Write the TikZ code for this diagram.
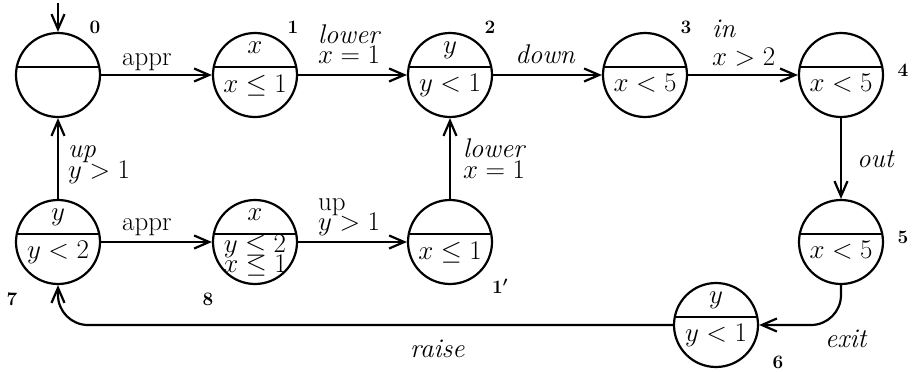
\RequirePackage{fix-cm}
\documentclass[tikz,border=0pt]{standalone}
\usetikzlibrary{arrows.meta,calc}
\begin{document}
\begin{tikzpicture}[x=1pt,y=-1pt,
  st/.style={circle,draw,line width=2.2pt,minimum size=84pt,inner sep=0pt},
  tx/.style={inner sep=0pt,anchor=base,font=\fontsize{27}{30}\selectfont},
  txl/.style={inner sep=0pt,anchor=base west,font=\fontsize{27}{30}\selectfont},
  num/.style={inner sep=0pt,anchor=base,font=\fontsize{19}{22}\selectfont\bfseries\boldmath},
  edge/.style={line width=2.2pt,-{Straight Barb[length=15pt,width=13pt,line width=2.2pt]}},
  div/.style={line width=2.2pt},
  round/.style={rounded corners=30pt}]
\useasboundingbox (0,0) rectangle (914,372);

% states
\node[st] (n0) at (58,75) {};
\node[st] (n1) at (255,75) {};
\node[st] (n2) at (450,75) {};
\node[st] (n3) at (645,75) {};
\node[st] (n4) at (841,75) {};
\node[st] (n5) at (841,242) {};
\node[st] (n6) at (716,325) {};
\node[st] (n7) at (58,242) {};
\node[st] (n8) at (255,242) {};
\node[st] (n1p) at (450,242) {};

\foreach \n in {n0,n1,n2,n3,n4,n5,n6,n7,n8,n1p}
  \draw[div] (\n.169) -- (\n.11);

% contents
\node[tx] (c1a) at ($(n1)+(0,-22)$) {$x$};
\node[tx] (c1b) at ($(n1)+(0,17)$) {$x\le 1$};
\node[tx] (c2a) at ($(n2)+(0,-22)$) {$y$};
\node[tx] (c2b) at ($(n2)+(0,16)$) {$y<1$};
\node[tx] (c3b) at ($(n3)+(0,16)$) {$x<5$};
\node[tx] (c4b) at ($(n4)+(0,16)$) {$x<5$};
\node[tx] (c5b) at ($(n5)+(0,16)$) {$x<5$};
\node[tx] (c6a) at ($(n6)+(0,-22)$) {$y$};
\node[tx] (c6b) at ($(n6)+(0,16)$) {$y<1$};
\node[tx] (c7a) at ($(n7)+(0,-22)$) {$y$};
\node[tx] (c7b) at ($(n7)+(0,16)$) {$y<2$};
\node[tx] (c8a) at ($(n8)+(0,-22)$) {$x$};
\node[tx] (c8b) at ($(n8)+(0,10)$) {$y\le 2$};
\node[tx] (c8c) at ($(n8)+(0,30)$) {$x\le 1$};
\node[tx] (c1pb) at ($(n1p)+(0,17)$) {$x\le 1$};

% state numbers
\node[num] (l0) at (95,33) {0};
\node[num] (l1) at (293,33) {1};
\node[num] (l2) at (490,33) {2};
\node[num] (l3) at (686,33) {3};
\node[num] (l4) at (903,76) {4};
\node[num] (l5) at (903,243) {5};
\node[num] (l6) at (778,368) {6};
\node[num] (l7) at (12,305) {7};
\node[num] (l8) at (208,305) {8};
\node[num] (l1p) at (500,293) {$1'$};

% initial
\coordinate (init) at (58,3);
\draw[edge] (init) -- (n0);

% transitions
\draw[edge] (n0) -- (n1);
\node[tx] (e01) at (147,65) {appr};
\draw[edge] (n1) -- (n2);
\node[txl] (e12a) at (318,43) {\itshape lower};
\node[txl] (e12b) at (318,63) {$x=1$};
\draw[edge] (n2) -- (n3);
\node[tx] (e23) at (545,63) {\itshape down};
\draw[edge] (n3) -- (n4);
\node[txl] (e34a) at (712,37) {\itshape in};
\node[txl] (e34b) at (712,65) {$x>2$};
\draw[edge] (n4) -- (n5);
\node[txl] (e45) at (857,167) {\itshape out};
\draw[edge,round] (n5.south) |- (n6.east);
\node[txl] (e56) at (825,347) {\itshape exit};
\draw[edge,round] (n6.west) -| (n7.south);
\node[txl] (e67) at (410,357) {\itshape raise};
\draw[edge] (n7) -- (n0);
\node[txl] (e70a) at (68,157) {\itshape up};
\node[txl] (e70b) at (68,178) {$y>1$};
\draw[edge] (n7) -- (n8);
\node[tx] (e78) at (147,230) {appr};
\draw[edge] (n8) -- (n1p);
\node[txl] (e81a) at (318,210) {up};
\node[txl] (e81b) at (318,230) {$y>1$};
\draw[edge] (n1p) -- (n2);
\node[txl] (e12pa) at (463,157) {\itshape lower};
\node[txl] (e12pb) at (463,178) {$x=1$};
\end{tikzpicture}
\end{document}
